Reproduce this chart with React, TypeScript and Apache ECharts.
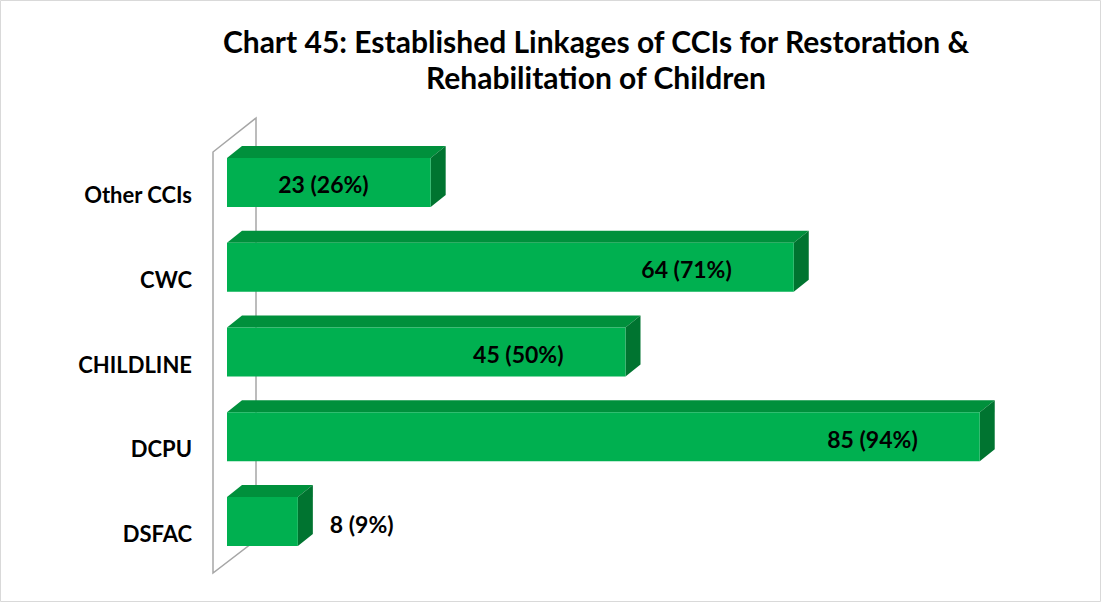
import React, { useEffect, useRef } from "react";
import * as echarts from "echarts";

const categories = ["Other CCIs", "CWC", "CHILDLINE", "DCPU", "DSFAC"];
const counts = [23, 64, 45, 85, 8];
const percents = [26, 71, 50, 94, 9];
const labels = counts.map((c, i) => `${c} (${percents[i]}%)`);
const titleLines = [
  "Chart 45: Established Linkages of CCIs for Restoration &",
  "Rehabilitation of Children",
];

const FONT = "Lato, 'Open Sans', sans-serif";

export default function App() {
  const ref = useRef<HTMLDivElement>(null);
  useEffect(() => {
    document.body.style.margin = "0";
    const chart = echarts.init(ref.current!, null, { renderer: "svg" });
    const option: any = {
      animation: false,
      backgroundColor: "#ffffff",
      graphic: [
        {
          type: "rect",
          shape: { x: 0.5, y: 0.5, width: 1100, height: 601 },
          style: { fill: "none", stroke: "#d9d9d9", lineWidth: 1 },
          z: -10,
        },
        {
          type: "polygon",
          shape: { points: [[213, 152], [256, 118], [256, 540], [213, 573]] },
          style: { fill: "none", stroke: "#a6a6a6", lineWidth: 1.5 },
          z: -5,
        },
        {
          type: "text",
          x: 596,
          y: 59,
          style: {
            text: titleLines.join("\n"),
            textAlign: "center",
            textVerticalAlign: "middle",
            fontFamily: FONT,
            fontSize: 30,
            fontWeight: "bold",
            lineHeight: 36,
            fill: "#000",
          },
        },
      ],
      grid: { left: 227, right: 82, top: 140, bottom: 607 - 564 },
      xAxis: {
        type: "value",
        min: 0,
        max: 90,
        show: false,
      },
      yAxis: {
        type: "category",
        data: categories,
        inverse: true,
        axisLine: { show: false },
        axisTick: { show: false },
        axisLabel: {
          margin: 35,
          fontFamily: FONT,
          fontSize: 22,
          fontWeight: "bold",
          color: "#000",
          verticalAlign: "top",
          lineHeight: 24,
        },
      },
      series: [
        {
          type: "custom",
          data: counts.map((v, i) => [v, i]),
          encode: { x: 0, y: 1 },
          renderItem: (params: any, api: any) => {
            const v = api.value(0);
            const idx = api.value(1);
            const s = api.coord([0, idx]);
            const e = api.coord([v, idx]);
            const h = 49;
            const dx = 15;
            const dy = 12;
            const x0 = s[0];
            const x1 = e[0];
            const y0 = s[1] - h / 2;
            const y1 = s[1] + h / 2;
            const inside = v >= 15;
            return {
              type: "group",
              children: [
                {
                  type: "polygon",
                  shape: { points: [[x0, y0], [x0 + dx, y0 - dy], [x1 + dx, y0 - dy], [x1, y0]] },
                  style: { fill: "#00903c" },
                },
                {
                  type: "polygon",
                  shape: { points: [[x1, y0], [x1 + dx, y0 - dy], [x1 + dx, y1 - dy], [x1, y1]] },
                  style: { fill: "#007430" },
                },
                {
                  type: "rect",
                  shape: { x: x0, y: y0, width: x1 - x0, height: h },
                  style: { fill: "#00b050" },
                },
                {
                  type: "text",
                  x: inside ? x1 - 62 : x1 + dx + 17,
                  y: s[1] + 2,
                  style: {
                    text: labels[params.dataIndex],
                    textAlign: inside ? "right" : "left",
                    textVerticalAlign: "middle",
                    fontFamily: FONT,
                    fontSize: 23,
                    fontWeight: "bold",
                    fill: "#000",
                  },
                },
              ],
            };
          },
        },
      ],
    };
    chart.setOption(option);
    return () => chart.dispose();
  }, []);
  return (
    <div
      ref={ref}
      style={{ position: "absolute", left: 0, top: 0, width: 1106, height: 607 }}
    />
  );
}
